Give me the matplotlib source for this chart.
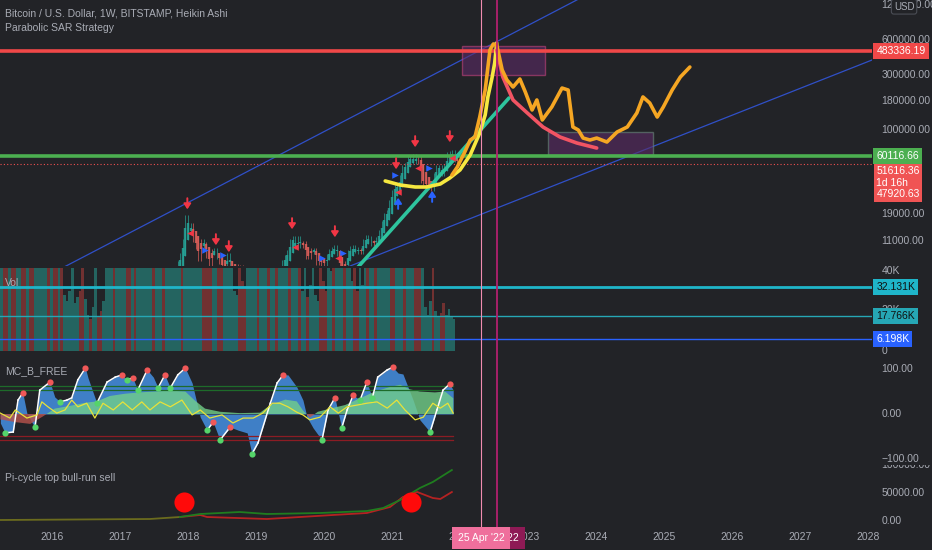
import numpy as np
import matplotlib.pyplot as plt
from matplotlib.transforms import blended_transform_factory as blend, Bbox, TransformedBbox
from matplotlib.patches import Rectangle
from matplotlib.lines import Line2D

BG = '#222327'
TXT = '#a9acb5'
plt.rcParams['font.family'] = ['Liberation Sans', 'DejaVu Sans']
plt.rcParams['font.size'] = 7

# ---- price (biweekly closes from mid 2017) ----
closes = [2500, 2700, 3300, 4200, 4500, 3800, 4300, 5700, 6100, 7000, 8200, 11000, 17500,
          14000, 15000, 11500, 10000, 8000, 11000, 10300, 8500, 7000, 8900, 9200, 8300, 7500,
          6300, 6700, 8200, 7000, 6300, 6600, 6500, 6500, 6400, 5600, 4000, 3500, 3800,
          3800, 3600, 3500, 3600, 3900, 3800, 4000, 4100, 5200, 5300, 7200, 8000, 8700, 11000,
          11500, 10000, 11500, 10200, 10400, 8200, 8300, 9200, 9200, 7400, 7500, 7200, 7200,
          8100, 8900, 9300, 9700, 8800, 5400, 6400, 7100, 8800, 9500, 9600, 9300, 9100, 9200,
          11000, 11800, 11500, 10700, 10600, 11400, 13100, 15500, 18400, 19200, 23500, 29000,
          33000, 32000, 39000, 47000, 49000, 58000, 55000, 59000, 54000, 57000, 37000, 36000,
          33000, 34000, 32000, 40000, 47000, 47000, 43000, 48000, 61000, 62000, 64000, 57000, 51600]
price_start = 2017.5

sell_t = [2017.99, 2018.41, 2018.60, 2019.53, 2020.16, 2021.06, 2021.34, 2021.85]
sell_p = [19700, 9660, 8410, 13270, 11320, 43650, 67600, 74600]
buy_t = [2021.09, 2021.59]
buy_p = [27660, 31770]
stop_long_t = [2018.25, 2018.51, 2019.97, 2020.28, 2021.04, 2021.54]
stop_long_p = [9290, 8410, 7930, 8750, 41100, 47300]
stop_short_t = [2018.03, 2019.57, 2020.21, 2021.09, 2021.38, 2021.88]
stop_short_p = [13000, 9860, 7930, 29370, 47300, 57700]

# ---- drawings ----
yellow_t = [2020.90, 2021.12, 2021.34, 2021.51, 2021.71, 2021.85, 2022.00, 2022.15, 2022.29,
            2022.37, 2022.41, 2022.47, 2022.51, 2022.54]
yellow_p = [36560, 33740, 32430, 32430, 34430, 38800, 45500, 61270, 94840, 135500, 193800,
            282500, 380200, 564900]
orange_t = [2021.88, 2021.96, 2022.07, 2022.15, 2022.22, 2022.29, 2022.37, 2022.44, 2022.49,
            2022.54, 2022.62, 2022.69, 2022.78, 2022.88, 2022.96, 2023.06, 2023.13, 2023.21,
            2023.35, 2023.50, 2023.59, 2023.66, 2023.74, 2023.81, 2023.91, 2024.01, 2024.16,
            2024.31, 2024.46, 2024.60, 2024.69, 2024.79, 2024.90, 2024.99, 2025.12, 2025.24, 2025.38]
orange_p = [41100, 48200, 65000, 82400, 87500, 130000, 222300, 492000, 554600, 543300, 331100,
            271000, 236000, 276600, 213800, 149600, 182400, 122700, 158900, 231200, 222300,
            106700, 100500, 85700, 82400, 85700, 79200, 96600, 106700, 140900, 193800, 171800,
            130000, 158900, 222300, 287700, 350800]
decay_t = [2022.54, 2022.63, 2022.78, 2022.99, 2023.22, 2023.47, 2023.72, 2024.01]
decay_p = [492000, 287700, 182400, 140900, 106700, 87500, 77600, 70300]
teal_t = [2020.50, 2022.72]
teal_p = [6620, 189700]
chan_up_t = [2016.15, 2023.72]
chan_up_p = [6500, 1330000]
chan_lo_t = [2020.31, 2028.06]
chan_lo_p = [6500, 403600]
box_top = (2022.03, 2023.25, 299200, 532000)
box_low = (2023.29, 2024.84, 61270, 96600)
red_level = 483336.19
green_level = 60116.66
last_price = 51616.36
cursor_t = 2022.31
marker_t = 2022.54

price_ticks = [1200000, 600000, 300000, 180000, 100000, 19000, 11000]

# ---- volume (thousands, biweekly from 2015.24) ----
vol = [60, 55, 60, 60, 48, 60, 60, 60, 52, 60, 60, 60, 60, 45, 60, 60, 60, 60, 60, 60,
       60, 60, 50, 60, 28, 25, 30, 60, 24, 27, 30, 60, 26, 18, 16, 22, 60, 17, 20, 25,
       45, 60, 60, 60, 60, 60, 60, 60, 60, 60, 60, 60, 60, 60, 60, 60, 60, 60, 60, 60,
       60, 60, 50, 60, 60, 60, 60, 60, 60, 60, 60, 60, 60, 50, 60, 60, 60, 60, 60, 60,
       60, 60, 60, 60, 60, 60, 60, 60, 60, 30, 28, 60, 35, 32, 60, 60, 60, 60, 60, 60,
       60, 60, 60, 60, 60, 60, 60, 60, 60, 60, 60, 60, 60, 60, 60, 30, 60, 27, 33, 60,
       28, 25, 60, 35, 30, 60, 40, 60, 60, 60, 60, 60, 60, 60, 35, 60, 30, 60, 33, 60,
       60, 60, 60, 60, 60, 60, 60, 60, 60, 60, 60, 60, 60, 60, 60, 60, 60, 60, 60, 60,
       60, 60, 22, 18, 25, 60, 20, 17, 19, 24, 18, 21, 17, 16]
vol_down = [1, 2, 4, 5, 8, 9, 11, 12, 18, 20, 21, 23, 30, 31, 34, 37, 38, 43, 48, 49, 51,
            58, 62, 69, 77, 78, 79, 80, 83, 84, 91, 92, 93, 98, 102, 105, 110, 114, 117,
            122, 123, 124, 127, 131, 135, 136, 140, 143, 149, 150, 154, 158, 159, 160, 165,
            168, 169]
vol_start = 2015.24
vol_levels = [(32.131, '32.131K', '#1fb5c9', 2.0), (17.766, '17.766K', '#26a7b5', 1.0),
              (6.198, '6.198K', '#2962ff', 1.0)]

# ---- MC_B_FREE oscillator ----
wave_t = [2015.24, 2015.31, 2015.43, 2015.50, 2015.57, 2015.63, 2015.71, 2015.75, 2015.82,
          2015.97, 2016.04, 2016.12, 2016.22, 2016.29, 2016.38, 2016.49, 2016.53, 2016.66,
          2016.81, 2016.93, 2017.03, 2017.10, 2017.19, 2017.26, 2017.40, 2017.49, 2017.56,
          2017.66, 2017.74, 2017.85, 2017.96, 2018.06, 2018.18, 2018.28, 2018.37, 2018.47,
          2018.62, 2018.74, 2018.87, 2018.94, 2019.03, 2019.21, 2019.31, 2019.40, 2019.47,
          2019.60, 2019.69, 2019.75, 2019.84, 2019.97, 2020.06, 2020.16, 2020.26, 2020.34,
          2020.43, 2020.53, 2020.63, 2020.71, 2020.79, 2020.93, 2021.01, 2021.09, 2021.16,
          2021.31, 2021.41, 2021.56, 2021.66, 2021.75, 2021.85, 2021.90]
wave_v = [-20, -42, -40, 31, 47, 2, -20, -29, 53, 71, 38, 27, 31, 36, 76, 102, 80, 24, 71,
          82, 87, 76, 80, 53, 98, 82, 58, 87, 58, 87, 102, 69, -7, -36, -18, -58, -29, -36,
          -42, -89, -64, 24, 69, 87, 87, 60, 31, -7, -31, -58, 9, 36, -31, 9, 42, 31, 71, 36,
          82, 98, 104, 91, 89, 31, -13, -40, 9, 53, 67, 53]
slow_t = [2015.24, 2015.46, 2015.68, 2015.87, 2016.04, 2016.26, 2016.49, 2016.66, 2016.85,
          2017.07, 2017.29, 2017.51, 2017.74, 2017.96, 2018.10, 2018.25, 2018.47, 2018.76,
          2019.06, 2019.21, 2019.43, 2019.60, 2019.69, 2019.79, 2019.91, 2020.09, 2020.31,
          2020.53, 2020.75, 2020.97, 2021.12, 2021.26, 2021.41, 2021.63, 2021.78, 2021.90]
slow_v = [-12, -18, -22, -5, 12, 18, 25, 28, 40, 45, 48, 50, 52, 50, 30, 12, 5, 2, 3, 20,
          32, 28, 8, -8, 5, 12, 20, 35, 50, 60, 65, 55, 50, 48, 50, 35]
fast_t = [2015.24, 2015.38, 2015.46, 2015.63, 2015.78, 2015.85, 2015.94, 2016.07, 2016.19,
          2016.29, 2016.38, 2016.51, 2016.63, 2016.75, 2016.90, 2017.04, 2017.18, 2017.32,
          2017.44, 2017.59, 2017.74, 2017.91, 2018.06, 2018.18, 2018.32, 2018.50, 2018.66,
          2018.81, 2018.96, 2019.10, 2019.24, 2019.35, 2019.47, 2019.60, 2019.69, 2019.79,
          2019.94, 2020.09, 2020.21, 2020.34, 2020.49, 2020.63, 2020.78, 2020.93, 2021.07,
          2021.19, 2021.34, 2021.46, 2021.60, 2021.71, 2021.82, 2021.90]
fast_v = [2, -9, 9, -9, -2, 27, 16, 2, 9, 31, 16, 24, -9, 24, 9, 27, 9, 27, 9, 27, 16, 31,
          -2, 9, -9, -2, -20, -9, -9, 2, 24, 24, 16, 4, -2, -13, -7, 16, 2, 16, 20, 24, 27,
          13, 31, 9, -13, -7, 24, 13, 24, 2]
ob_levels = [62, 53]
os_levels = [-49, -58]

# ---- Pi-cycle ----
pi_base_t = [2015.24, 2017.44, 2017.88]
pi_base_v = [1786, 3571, 7143]
pi_long_t = [2017.88, 2018.18, 2018.76, 2019.16, 2019.94, 2020.63, 2020.87, 2021.12, 2021.41,
             2021.60, 2021.88]
pi_long_v = [7143, 12500, 16071, 12500, 14286, 17857, 23214, 37500, 58929, 69643, 91071]
pi_short_t = [2017.88, 2018.18, 2018.28, 2019.16, 2019.65, 2020.13, 2020.63, 2020.97, 2021.16,
              2021.37, 2021.60, 2021.71, 2021.88]
pi_short_v = [7143, 10714, 7143, 3571, 7143, 10714, 14286, 25000, 42857, 51786, 41071, 39286,
              51786]
pi_cross_t = [2017.94, 2021.28]
pi_cross_v = [33900, 33900]

years = list(range(2016, 2029))

# ---------------- figure ----------------
W, H = 932.0, 550.0
X0, X1 = 2015.235, 2015.235 + 872 / 68
fig = plt.figure(figsize=(9.32, 5.5), dpi=100, facecolor=BG)


def pane(top, bottom):
    ax = fig.add_axes([0, 1 - bottom / H, 872 / W, (bottom - top) / H])
    ax.set_xlim(X0, X1)
    ax.axis('off')
    return ax


def rlabel(ax, y, s):
    return ax.text(1.011, y, s, transform=blend(ax.transAxes, ax.transData), ha='left',
                   va='center', color=TXT, fontsize=7.5, clip_on=False)


def rbox(ax, y, s, color, fg='white', z=20):
    ax.text(1.005, y, s, transform=blend(ax.transAxes, ax.transData), ha='left', va='center',
            color=fg, fontsize=7.5, clip_on=False, zorder=z,
            bbox=dict(boxstyle='square,pad=0.28', fc=color, ec='none'))


# price pane
ax = pane(0, 266)
ax.set_yscale('log')
ax.set_ylim(6760, 1327000)

cl = np.array(closes, float)
tc = price_start + np.arange(len(cl)) / 26
op = np.r_[cl[0], cl[:-1]]
hi = np.maximum(op, cl) * 1.06
lo = np.minimum(op, cl) * 0.94
ha_c = (op + hi + lo + cl) / 4
ha_o = np.empty_like(ha_c)
ha_o[0] = op[0]
for i in range(1, len(cl)):
    ha_o[i] = (ha_o[i - 1] + ha_c[i - 1]) / 2
ha_h = np.maximum.reduce([hi, ha_o, ha_c])
ha_l = np.minimum.reduce([lo, ha_o, ha_c])
col = np.where(ha_c >= ha_o, '#26a69a', '#e0605a')
ax.vlines(tc, ha_l, ha_h, colors=col, lw=0.6, alpha=0.8)
ax.vlines(tc, np.minimum(ha_o, ha_c), np.maximum(ha_o, ha_c), colors=col, lw=1.7, alpha=0.85)

ax.plot(chan_up_t, chan_up_p, color='#3050c8', lw=0.9)
ax.plot(chan_lo_t, chan_lo_p, color='#3050c8', lw=0.9)
ax.axhline(red_level, color='#f04848', lw=2.6, zorder=3)
ax.axhline(green_level, color='#4caf50', lw=2.6, zorder=3)
ax.axhline(last_price, color='#f05050', lw=0.8, ls=(0, (1, 2)), zorder=3)
for b, ec in ((box_top, '#c2427c'), (box_low, '#6a8a7c')):
    ax.add_patch(Rectangle((b[0], b[2]), b[1] - b[0], b[3] - b[2], fc='#5b2b66', alpha=0.6,
                           ec=ec, lw=1, zorder=2))
ax.plot(teal_t, teal_p, color='#2ec49e', lw=2.6, zorder=4, solid_capstyle='round')
ax.plot(yellow_t, yellow_p, color='#f6e840', lw=2.6, zorder=5, solid_capstyle='round')
ax.plot(decay_t, decay_p, color='#f25463', lw=2.6, zorder=5, solid_capstyle='round')
ax.plot(orange_t, orange_p, color='#f5a623', lw=2.6, zorder=6, solid_capstyle='round',
        solid_joinstyle='round')

for t, p in zip(sell_t, sell_p):
    ax.annotate('', xy=(t, p), xytext=(0, 12), textcoords='offset points', zorder=7,
                arrowprops=dict(arrowstyle='-|>,head_width=0.3,head_length=0.45',
                                color='#f23645', lw=1.4))
for t, p in zip(buy_t, buy_p):
    ax.annotate('', xy=(t, p), xytext=(0, -12), textcoords='offset points', zorder=7,
                arrowprops=dict(arrowstyle='-|>,head_width=0.3,head_length=0.45',
                                color='#2962ff', lw=1.4))
ax.scatter(stop_long_t, stop_long_p, marker='>', s=22, color='#2962ff', zorder=7, lw=0)
ax.scatter(stop_short_t, stop_short_p, marker='<', s=22, color='#f23645', zorder=7, lw=0)

for v in price_ticks:
    rlabel(ax, v, f'{v:.2f}')
ax.text(1.025, 0.975, 'USD', transform=ax.transAxes, ha='left', va='center', color=TXT,
        fontsize=7, zorder=21, clip_on=False,
        bbox=dict(boxstyle='round,pad=0.25', fc=BG, ec='#4a4d55', lw=0.8))
rbox(ax, red_level, f'{red_level:.2f}', '#f04848')
ax.text(1.005, 35400, f'{last_price:.2f}\n1d 16h\n47920.63',
        transform=blend(ax.transAxes, ax.transData), ha='left', va='center', color='white',
        fontsize=7.5, linespacing=1.2, clip_on=False, zorder=20,
        bbox=dict(boxstyle='square,pad=0.25', fc='#f05454', ec='none'))
rbox(ax, green_level, f'{green_level:.2f}', '#4caf50', z=22)
ax.text(0.006, 0.95, 'Bitcoin / U.S. Dollar, 1W, BITSTAMP, Heikin Ashi', transform=ax.transAxes,
        color=TXT, fontsize=7.5, va='center')
ax.text(0.006, 0.893, 'Parabolic SAR Strategy', transform=ax.transAxes, color=TXT,
        fontsize=7.5, va='center')

# volume pane
av = pane(268, 352)
av.set_ylim(-0.5, 41.7)
vv = np.array(vol, float)
tv = vol_start + np.arange(len(vv)) / 26
vcol = np.array(['#26a69a'] * len(vv), dtype=object)
vcol[vol_down] = '#c0403c'
av.bar(tv, vv, width=1 / 26, color=list(vcol), alpha=0.5, lw=0, align='edge')
for lvl, s, c, lw in vol_levels:
    av.axhline(lvl, color=c, lw=lw)
rlabel(av, 40, '40K')
rlabel(av, 20.5, '20K')
rlabel(av, 0, '0')
for lvl, s, c, lw in vol_levels:
    rbox(av, lvl, s, c, fg='#101010' if c != '#2962ff' else 'white')
av.text(0.006, 0.82, 'Vol', transform=av.transAxes, color=TXT, fontsize=7.5, va='center')

# oscillator pane
ao = pane(356, 461)
ao.set_ylim(-104.4, 128.9)
for lv in ob_levels:
    ao.plot([wave_t[0], wave_t[-1]], [lv, lv], color='#1e6b2a', lw=0.9)
for lv in os_levels:
    ao.plot([wave_t[0], wave_t[-1]], [lv, lv], color='#8c1c24', lw=0.9)
ao.fill_between(wave_t, 0, wave_v, color='#3f7fc6', lw=0)
st = np.array(slow_t)
sv = np.array(slow_v, float)
ao.fill_between(st, 0, sv, where=sv >= 0, interpolate=True, color='#72cf8a', alpha=0.8, lw=0)
ao.fill_between(st, 0, sv, where=sv < 0, interpolate=True, color='#b8524c', alpha=0.8, lw=0)
wt = np.array(wave_t)
wv = np.array(wave_v, float)
for i in range(len(wv) - 1):
    if wv[i + 1] > wv[i]:
        ao.plot(wt[i:i + 2], wv[i:i + 2], color='white', lw=1.1)
ao.plot(fast_t, fast_v, color='#e8e23a', lw=0.9)
peaks = [i for i in range(1, len(wv) - 1) if wv[i] > wv[i - 1] and wv[i] >= wv[i + 1]]
troughs = [i for i in range(1, len(wv) - 1) if wv[i] < wv[i - 1] and wv[i] <= wv[i + 1]]
ao.scatter(wt[peaks], wv[peaks], s=20, color='#f05858', zorder=5, lw=0)
ao.scatter(wt[troughs], wv[troughs], s=20, color='#55d46a', zorder=5, lw=0)
rlabel(ao, 100, '100.00')
rlabel(ao, 0, '0.00')
rlabel(ao, -100, '−100.00')
ao.text(0.006, 0.855, 'MC_B_FREE', transform=ao.transAxes, color=TXT, fontsize=7.5, va='center')

# pi-cycle pane
ap = pane(462, 523)
ap.set_ylim(-3571, 105357)
ap.plot(pi_base_t, pi_base_v, color='#6b6b1e', lw=1.3)
ap.plot(pi_short_t, pi_short_v, color='#b52222', lw=1.3)
ap.plot(pi_long_t, pi_long_v, color='#1f7d1f', lw=1.3)
ap.scatter(pi_cross_t, pi_cross_v, s=210, color='#ff0a0a', zorder=5, lw=0)
top_lbl = rlabel(ap, 100000, '100000.00')
top_lbl.set_clip_on(True)
top_lbl.set_clip_box(TransformedBbox(Bbox([[0.9, 0.0], [1.0, 1 - 465 / H]]), fig.transFigure))
rlabel(ap, 50000, '50000.00')
rlabel(ap, 0, '0.00')
ap.text(0.006, 0.73, 'Pi-cycle top bull-run sell', transform=ap.transAxes, color=TXT,
        fontsize=7.5, va='center')

# time axis
tr = blend(ap.transData, fig.transFigure)
for y in years:
    fig.text(y, 1 - 537 / H, str(y), transform=tr, ha='center', va='center', color=TXT,
             fontsize=7.5)
for t, c, lw in ((cursor_t, '#f08cb0', 0.8), (marker_t, '#b3206e', 1.3)):
    fig.add_artist(Line2D([t, t], [1 - 527 / H, 1], transform=tr, color=c, lw=lw, zorder=30))
fig.text(marker_t, 1 - 538 / H, "18 Jul '22", transform=tr, ha='center', va='center',
         color='white', fontsize=7.5, zorder=40,
         bbox=dict(boxstyle='square,pad=0.55', fc='#8e1a55', ec='none'))
fig.text(cursor_t, 1 - 538 / H, "25 Apr '22", transform=tr, ha='center', va='center',
         color='white', fontsize=7.5, zorder=41,
         bbox=dict(boxstyle='square,pad=0.55', fc='#ef6f9c', ec='none'))

fig.savefig('out.png', dpi=100, facecolor=BG)
